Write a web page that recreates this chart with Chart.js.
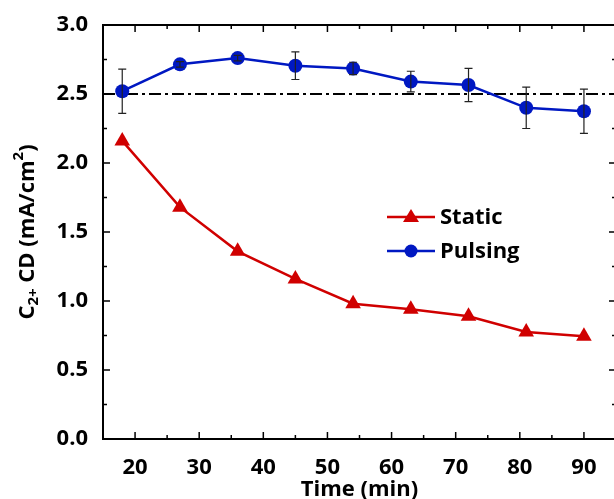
<!DOCTYPE html>
<html>
<head>
<meta charset="utf-8">
<script src="https://cdn.jsdelivr.net/npm/chart.js@4.4.1/dist/chart.umd.min.js"></script>
<style>
  html, body { margin: 0; padding: 0; background: #fff; overflow: hidden; }
  #wrap { width: 625px; height: 499px; }
</style>
</head>
<body>
<div id="wrap"><canvas id="myChart" width="625" height="499"></canvas></div>
<script>
// ---------- data ----------
const times = [18, 27, 36, 45, 54, 63, 72, 81, 90];
const staticCD = [2.16, 1.68, 1.36, 1.16, 0.98, 0.94, 0.89, 0.775, 0.745];
const pulsingCD = [2.52, 2.715, 2.76, 2.705, 2.685, 2.59, 2.565, 2.40, 2.375];
const pulsingErr = [0.16, 0.02, 0.02, 0.10, 0.045, 0.075, 0.12, 0.15, 0.16];
const refLevel = 2.5;
const xTicks = [20, 30, 40, 50, 60, 70, 80, 90];
const yTicks = [0, 0.5, 1.0, 1.5, 2.0, 2.5, 3.0];

const red = '#d00000';
const blue = '#0018c2';
const font = '"Open Sans", "DejaVu Sans", sans-serif';

//----------------custom drawing------------------
const frame_plugin = {
    id: 'frame',
    beforeDatasetsDraw(chart) {
        const { ctx, chartArea: a, scales: { x, y } } = chart;
        const yy = y.getPixelForValue(refLevel);
        ctx.save();
        ctx.strokeStyle = '#000';
        ctx.lineWidth = 2;
        ctx.setLineDash([12, 4, 3, 4]);
        ctx.beginPath();
        ctx.moveTo(a.left, yy);
        ctx.lineTo(a.right, yy);
        ctx.stroke();
        ctx.restore();
    },
    afterDatasetsDraw(chart) {
        const { ctx, chartArea: a, scales: { x, y } } = chart;
        ctx.save();
        // error bars of the pulsing series
        ctx.strokeStyle = '#222';
        ctx.lineWidth = 1.2;
        times.forEach((t, i) => {
            const px = x.getPixelForValue(t);
            const top = y.getPixelForValue(pulsingCD[i] + pulsingErr[i]);
            const bot = y.getPixelForValue(pulsingCD[i] - pulsingErr[i]);
            ctx.beginPath();
            ctx.moveTo(px, top); ctx.lineTo(px, bot);
            ctx.moveTo(px - 4, top); ctx.lineTo(px + 4, top);
            ctx.moveTo(px - 4, bot); ctx.lineTo(px + 4, bot);
            ctx.stroke();
        });

        // frame
        ctx.strokeStyle = '#000';
        ctx.lineWidth = 2;
        ctx.strokeRect(a.left, a.top, a.right - a.left, a.bottom - a.top);

        // inward ticks, major and minor
        ctx.lineWidth = 1.5;
        ctx.beginPath();
        for (let v = 15; v <= 95; v += 5) {
            const px = x.getPixelForValue(v);
            const len = v % 10 === 0 ? 7 : 4;
            ctx.moveTo(px, a.bottom); ctx.lineTo(px, a.bottom - len);
            ctx.moveTo(px, a.top); ctx.lineTo(px, a.top + len);
        }
        for (let v = 0; v <= 3.001; v += 0.25) {
            const py = y.getPixelForValue(v);
            const len = Math.abs(v * 2 - Math.round(v * 2)) < 0.01 ? 7 : 4;
            ctx.moveTo(a.left, py); ctx.lineTo(a.left + len, py);
            ctx.moveTo(a.right, py); ctx.lineTo(a.right - len, py);
        }
        ctx.stroke();
        ctx.restore();
    },
    afterDraw(chart) {
        const { ctx, chartArea: a } = chart;
        ctx.save();
        ctx.fillStyle = '#000';

        // x title
        ctx.font = 'bold 22px ' + font;
        ctx.textAlign = 'center';
        ctx.textBaseline = 'alphabetic';
        ctx.fillText('Time (min)', (a.left + a.right) / 2, 496);

        // y title with sub and sup
        ctx.translate(27, (a.top + a.bottom) / 2);
        ctx.rotate(-Math.PI / 2);
        const parts = [
            ['C', 22, 0], ['2+', 15, 6], [' CD (mA/cm', 22, 0], ['2', 15, -9], [')', 22, 0]
        ];
        let w = 0;
        parts.forEach(p => { ctx.font = 'bold ' + p[1] + 'px ' + font; w += ctx.measureText(p[0]).width; });
        let cx = -w / 2;
        ctx.textAlign = 'left';
        ctx.textBaseline = 'middle';
        parts.forEach(p => {
            ctx.font = 'bold ' + p[1] + 'px ' + font;
            ctx.fillText(p[0], cx, p[2] + 1);
            cx += ctx.measureText(p[0]).width;
        });
        ctx.restore();

        // legend
        ctx.save();
        const rows = [
            { label: 'Static', color: red, y: 217, shape: 'tri' },
            { label: 'Pulsing', color: blue, y: 251, shape: 'dot' }
        ];
        rows.forEach(r => {
            ctx.strokeStyle = r.color;
            ctx.fillStyle = r.color;
            ctx.lineWidth = 2.5;
            ctx.beginPath();
            ctx.moveTo(387, r.y); ctx.lineTo(435, r.y);
            ctx.stroke();
            ctx.beginPath();
            if (r.shape === 'tri') {
                ctx.moveTo(411, r.y - 8); ctx.lineTo(419, r.y + 5); ctx.lineTo(403, r.y + 5);
                ctx.closePath();
            } else {
                ctx.arc(411, r.y, 6.5, 0, Math.PI * 2);
            }
            ctx.fill();
            ctx.fillStyle = '#000';
            ctx.font = 'bold 22px ' + font;
            ctx.textAlign = 'left';
            ctx.textBaseline = 'middle';
            ctx.fillText(r.label, 440, r.y + 1);
        });
        ctx.restore();
    }
};

const data = {
    datasets: [{
        label: 'Static',
        data: times.map((t, i) => ({ x: t, y: staticCD[i] })),
        borderColor: red,
        backgroundColor: red,
        borderWidth: 2.5,
        pointStyle: 'triangle',
        pointRadius: 9,
        pointBorderWidth: 0,
        tension: 0
    }, {
        label: 'Pulsing',
        data: times.map((t, i) => ({ x: t, y: pulsingCD[i] })),
        borderColor: blue,
        backgroundColor: blue,
        borderWidth: 2.5,
        pointStyle: 'circle',
        pointRadius: 7,
        pointBorderWidth: 0,
        tension: 0
    }]
};

const config = {
    type: 'line',
    data: data,
    options: {
        responsive: false,
        animation: false,
        layout: { padding: { top: 25, right: 1, left: 0, bottom: 0 } },
        plugins: { legend: { display: false }, tooltip: { enabled: false } },
        scales: {
            x: {
                type: 'linear',
                min: 15, max: 95,
                grid: { display: false },
                border: { display: false },
                afterBuildTicks: axis => { axis.ticks = xTicks.map(v => ({ value: v })); },
                afterFit: axis => { axis.height = 60; axis.paddingLeft = 0; axis.paddingRight = 0; },
                ticks: {
                    padding: 8,
                    color: '#000',
                    font: { family: font, size: 22, weight: 'bold' },
                    maxRotation: 0
                }
            },
            y: {
                min: 0, max: 3,
                grid: { display: false },
                border: { display: false },
                afterBuildTicks: axis => { axis.ticks = yTicks.map(v => ({ value: v })); },
                afterFit: axis => { axis.width = 103; axis.paddingTop = 0; axis.paddingBottom = 0; },
                ticks: {
                    padding: 7,
                    color: '#000',
                    font: { family: font, size: 22, weight: 'bold' },
                    callback: v => v.toFixed(1)
                }
            }
        }
    },
    plugins: [frame_plugin]
};

const myChart = new Chart(document.getElementById('myChart'), config);
</script>
</body>
</html>
